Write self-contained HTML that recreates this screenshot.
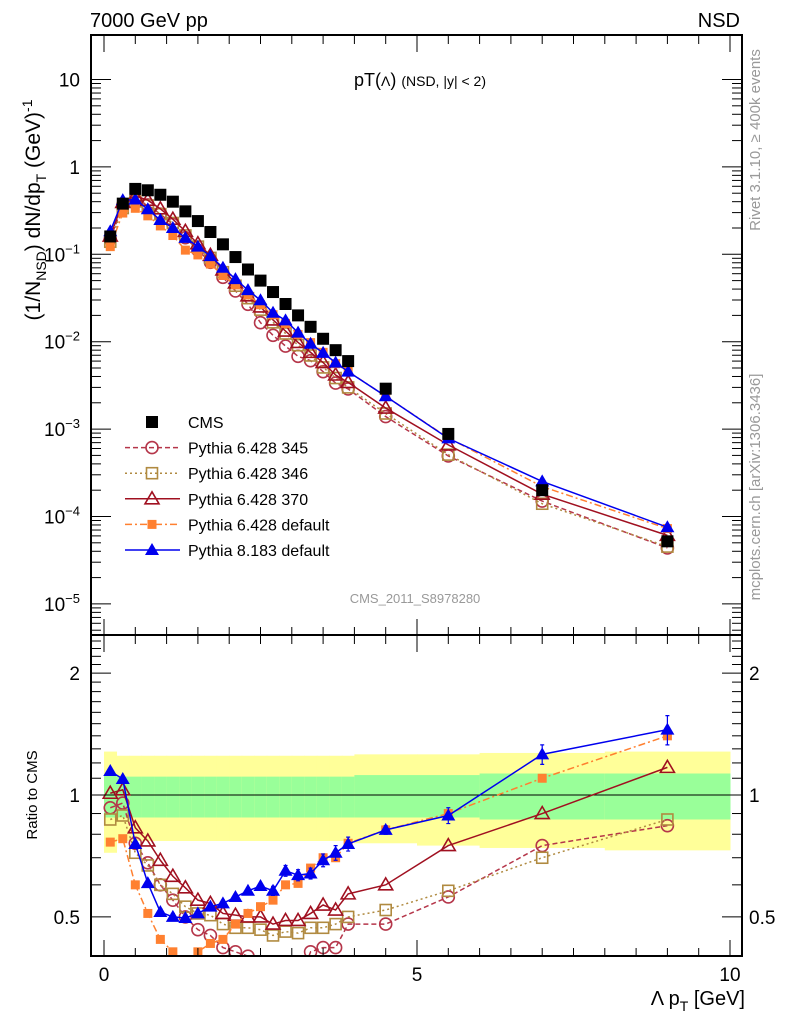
<!DOCTYPE html>
<html><head><meta charset="utf-8"><style>
body{margin:0;background:#fff;}
svg{display:block;font-family:"Liberation Sans",sans-serif;}
</style></head><body>
<svg id="chart" width="786" height="1024" viewBox="0 0 786 1024" xmlns="http://www.w3.org/2000/svg">
<defs>
<clipPath id="clipMain"><rect x="91" y="35" width="651" height="600"/></clipPath>
<clipPath id="clipRatio"><rect x="91" y="635" width="651" height="321"/></clipPath>
</defs>
<g id="bands" clip-path="url(#clipRatio)"></g>
<g id="marks"></g>
<rect x="91" y="35" width="651" height="600" fill="none" stroke="#000" stroke-width="2"/>
<rect x="91" y="635" width="651" height="321" fill="none" stroke="#000" stroke-width="2"/>
<g id="axes"></g>
<text x="90" y="27" font-size="20">7000 GeV pp</text>
<text x="740" y="27" font-size="20" text-anchor="end">NSD</text>
<text x="420" y="86" font-size="18" text-anchor="middle">pT(<tspan font-size="14">Λ</tspan>) <tspan font-size="14">(NSD, |y| &lt; 2)</tspan></text>
<text x="415" y="603" font-size="13" fill="#999" text-anchor="middle">CMS_2011_S8978280</text>
<text transform="translate(760,140) rotate(-90)" font-size="15" fill="#999" text-anchor="middle">Rivet 3.1.10, ≥ 400k events</text>
<text transform="translate(760,487) rotate(-90)" font-size="15" fill="#999" text-anchor="middle">mcplots.cern.ch [arXiv:1306.3436]</text>
<text transform="translate(40,210) rotate(-90)" font-size="21" text-anchor="middle">(1/N<tspan font-size="14" dy="6">NSD</tspan><tspan dy="-6">) dN/dp</tspan><tspan font-size="14" dy="6">T</tspan><tspan dy="-6"> (GeV)</tspan><tspan font-size="14" dy="-8">-1</tspan></text>
<text transform="translate(37,795) rotate(-90)" font-size="15" text-anchor="middle">Ratio to CMS</text>
<text x="745" y="1005" font-size="20" text-anchor="end">Λ p<tspan font-size="14" dy="6">T</tspan><tspan dy="-6"> [GeV]</tspan></text>
<g id="legend"></g>
</svg>
<script>
const pts = [0.1,0.3,0.5,0.7,0.9,1.1,1.3,1.5,1.7,1.9,2.1,2.3,2.5,2.7,2.9,3.1,3.3,3.5,3.7,3.9,4.5,5.5,7,9];
const binEdges = [0,0.2,0.4,0.6,0.8,1.0,1.2,1.4,1.6,1.8,2.0,2.2,2.4,2.6,2.8,3.0,3.2,3.4,3.6,3.8,4.0,5.0,6.0,8.0,10.0];
const cms = [0.16,0.38,0.56,0.54,0.48,0.40,0.31,0.24,0.18,0.13,0.093,0.067,0.050,0.037,0.027,0.020,0.0148,0.0108,0.0080,0.0060,0.0029,0.00088,0.00020,0.000052];
const bandYellowHi = [1.28,1.25,1.25,1.25,1.25,1.25,1.25,1.25,1.25,1.25,1.25,1.25,1.25,1.25,1.25,1.25,1.25,1.25,1.25,1.25,1.26,1.26,1.27,1.28];
const bandYellowLo = [0.72,0.77,0.77,0.77,0.77,0.77,0.77,0.77,0.77,0.77,0.77,0.77,0.77,0.77,0.77,0.77,0.77,0.77,0.77,0.77,0.76,0.75,0.74,0.73];
const bandGreenHi = [1.12,1.11,1.11,1.11,1.11,1.11,1.11,1.11,1.11,1.11,1.11,1.11,1.11,1.11,1.11,1.11,1.11,1.11,1.11,1.11,1.12,1.12,1.13,1.13];
const bandGreenLo = [0.88,0.88,0.88,0.88,0.88,0.88,0.88,0.88,0.88,0.88,0.88,0.88,0.88,0.88,0.88,0.88,0.88,0.88,0.88,0.88,0.88,0.88,0.87,0.87];
const r345 = [0.93,0.955,0.76,0.68,0.60,0.55,0.50,0.465,0.45,0.42,0.41,0.40,0.33,0.32,0.33,0.34,0.41,0.42,0.42,0.48,0.48,0.56,0.75,0.84];
const r346 = [0.87,0.89,0.72,0.67,0.60,0.57,0.53,0.51,0.505,0.48,0.47,0.47,0.465,0.45,0.46,0.456,0.47,0.47,0.48,0.50,0.52,0.58,0.70,0.87];
const r370 = [1.01,1.03,0.83,0.77,0.69,0.63,0.59,0.55,0.54,0.51,0.505,0.50,0.50,0.48,0.49,0.49,0.51,0.535,0.52,0.57,0.60,0.75,0.90,1.17];
const r6def = [0.765,0.78,0.60,0.51,0.44,0.41,0.36,0.41,0.43,0.44,0.48,0.51,0.53,0.55,0.60,0.605,0.66,0.70,0.70,0.76,0.82,0.90,1.10,1.40];
const r8def = [1.146,1.095,0.757,0.606,0.514,0.50,0.497,0.51,0.53,0.54,0.56,0.58,0.596,0.58,0.65,0.634,0.64,0.69,0.72,0.757,0.82,0.89,1.26,1.45];
const r8err = [0.01,0.01,0.01,0.01,0.01,0.01,0.01,0.01,0.01,0.01,0.01,0.01,0.01,0.015,0.02,0.02,0.02,0.025,0.03,0.03,0.02,0.04,0.07,0.12];
const xTicks = [0,5,10];
const yDecades = [-5,-4,-3,-2,-1,0,1];
const ratioTicks = [0.5,1,2];

const NS="http://www.w3.org/2000/svg";
const XR = 742;
const X = v => 104 + v*62.6;
const Y = v => 79.5 + 87.4*(1 - Math.log10(v));
const R = v => 795 - 405*Math.log10(v);
function el(tag, attrs, parent){const e=document.createElementNS(NS,tag);for(const k in attrs)e.setAttribute(k,attrs[k]);parent.appendChild(e);return e;}
const bands=document.getElementById('bands');
const marks=document.getElementById('marks');
const axes=document.getElementById('axes');

for(let i=0;i<pts.length;i++){
  const x0=X(binEdges[i]), x1=X(binEdges[i+1]);
  const y1=el('rect',{x:x0,y:R(bandYellowHi[i]),width:x1-x0+0.5,height:R(bandYellowLo[i])-R(bandYellowHi[i]),fill:'#ffff99'},bands);
  
  
  const g1=el('rect',{x:x0,y:R(bandGreenHi[i]),width:x1-x0+0.5,height:R(bandGreenLo[i])-R(bandGreenHi[i]),fill:'#99ff99'},bands);
  
  
}
const one=el('line',{x1:91,x2:XR,y1:R(1),y2:R(1),stroke:'#000','stroke-width':1},marks);



function marker(g,type,x,y,color){
  let m;
  if(type==='sq') m=el('rect',{x:x-6,y:y-6,width:12,height:12,fill:color},g);
  else if(type==='osq') m=el('rect',{x:x-5.5,y:y-5.5,width:11,height:11,fill:'none',stroke:color,'stroke-width':1.6},g);
  else if(type==='sqs') m=el('rect',{x:x-4.5,y:y-4.5,width:9,height:9,fill:color},g);
  else if(type==='oc') m=el('circle',{cx:x,cy:y,r:6,fill:'none',stroke:color,'stroke-width':1.6},g);
  else if(type==='otri') m=el('path',{d:`M${x},${y-7}L${x+7},${y+5}L${x-7},${y+5}Z`,fill:'none',stroke:color,'stroke-width':1.6},g);
  else if(type==='tri') m=el('path',{d:`M${x},${y-7}L${x+7},${y+5}L${x-7},${y+5}Z`,fill:color},g);
  
  
}
const series=[
 {name:'pythia-6428-345',r:r345,color:'#b5364a',dash:'5,3',m:'oc',label:'Pythia 6.428 345'},
 {name:'pythia-6428-346',r:r346,color:'#b08a40',dash:'2,3',m:'osq',label:'Pythia 6.428 346'},
 {name:'pythia-6428-370',r:r370,color:'#a01020',dash:'',m:'otri',label:'Pythia 6.428 370'},
 {name:'pythia-6428-default',r:r6def,color:'#ff8030',dash:'7,3,2,3',m:'sqs',label:'Pythia 6.428 default'},
 {name:'pythia-8183-default',r:r8def,color:'#0000ee',dash:'',m:'tri',label:'Pythia 8.183 default'}
];
function drawSeries(s,clip,fy,vals){
  const g=el('g',{'clip-path':`url(#${clip})`},marks);
  
  
  const d=pts.map((p,i)=>(i?'L':'M')+X(p)+','+fy(vals[i])).join('');
  const attrs={d:d,fill:'none',stroke:s.color,'stroke-width':1.5};
  if(s.dash)attrs['stroke-dasharray']=s.dash;
  el('path',attrs,g);
  pts.forEach((p,i)=>marker(g,s.m,X(p),fy(vals[i]),s.color));
  return g;
}
series.forEach(s=>drawSeries(s,'clipMain',Y,cms.map((c,i)=>c*s.r[i])));
const gc=el('g',{},marks);


pts.forEach((p,i)=>marker(gc,'sq',X(p),Y(cms[i]),'#000'));
series.forEach(s=>{
  const g=drawSeries(s,'clipRatio',R,s.r);
  if(s.name==='pythia-8183-default'){
    pts.forEach((p,i)=>{
      const hi=R(s.r[i]+r8err[i]), lo=R(s.r[i]-r8err[i]);
      el('path',{d:`M${X(p)},${hi}V${lo}M${X(p)-2},${hi}h4M${X(p)-2},${lo}h4`,stroke:s.color,'stroke-width':1.2},g);
    });
  }
});

xTicks.forEach(t=>{
  const lb=el('text',{x:X(t),y:981,'font-size':19,'text-anchor':'middle'},axes);
  lb.textContent=t;
  
  
});
for(let v=0;v<=10.001;v+=0.5){
  const major=Math.abs(v-Math.round(v))<1e-6 && Math.round(v)%5===0;
  const L=major?16:8;
  el('line',{x1:X(v),x2:X(v),y1:956,y2:956-L,stroke:'#000'},axes);
  el('line',{x1:X(v),x2:X(v),y1:635,y2:635-L,stroke:'#000'},axes);
  el('line',{x1:X(v),x2:X(v),y1:636,y2:636+L,stroke:'#000'},axes);
  el('line',{x1:X(v),x2:X(v),y1:36,y2:36+L,stroke:'#000'},axes);
}
yDecades.forEach(d=>{
  const y=Y(Math.pow(10,d));
  el('line',{x1:91,x2:111,y1:y,y2:y,stroke:'#000'},axes);
  el('line',{x1:XR,x2:XR-20,y1:y,y2:y,stroke:'#000'},axes);
  for(let k=2;k<=9;k++){
    const yy=Y(k*Math.pow(10,d-1));
    if(yy>35&&yy<635){el('line',{x1:91,x2:101,y1:yy,y2:yy,stroke:'#000'},axes);el('line',{x1:XR,x2:XR-10,y1:yy,y2:yy,stroke:'#000'},axes);}
  }
  const lb=el('text',{x:80,y:y+7,'font-size':19,'text-anchor':'end'},axes);
  
  
  if(d===0)lb.textContent='1';
  else if(d===1)lb.textContent='10';
  else{lb.textContent='10';const sp=document.createElementNS(NS,'tspan');sp.setAttribute('font-size','13');sp.setAttribute('dy','-8');sp.textContent='−'+(-d);lb.appendChild(sp);lb.setAttribute('x',62);lb.setAttribute('text-anchor','middle');}
});
ratioTicks.forEach(t=>{
  const y=R(t);
  el('line',{x1:91,x2:111,y1:y,y2:y,stroke:'#000'},axes);
  el('line',{x1:XR,x2:XR-20,y1:y,y2:y,stroke:'#000'},axes);
  ['L','R'].forEach(side=>{
    const lb=el('text',{x:side==='L'?80:749,y:y+7,'font-size':19,'text-anchor':side==='L'?'end':'start'},axes);
    lb.textContent=t;
    
    
  });
});
[0.4,0.6,0.7,0.8,0.9,1.1,1.2,1.3,1.4,1.5,1.6,1.7,1.8,1.9,2.1,2.2,2.3,2.4].forEach(t=>{const y=R(t);if(y>636&&y<955){el('line',{x1:91,x2:101,y1:y,y2:y,stroke:'#000'},axes);el('line',{x1:XR,x2:XR-10,y1:y,y2:y,stroke:'#000'},axes);}});

const lg=document.getElementById('legend');
const rows=[{m:'sq',color:'#000',label:'CMS',dash:null}].concat(series);
rows.forEach((s,i)=>{
  const y=422+i*25.6;
  const g=el('g',{},lg);
  
  
  if(s.dash!==null){const a={x1:125,x2:180,y1:y,y2:y,stroke:s.color,'stroke-width':1.5};if(s.dash)a['stroke-dasharray']=s.dash;el('line',a,g);}
  marker(g,s.m,152,y,s.color);
  const t=el('text',{x:188,y:y+6,'font-size':16},g);
  t.textContent=s.label;
});
</script>
</body></html>
